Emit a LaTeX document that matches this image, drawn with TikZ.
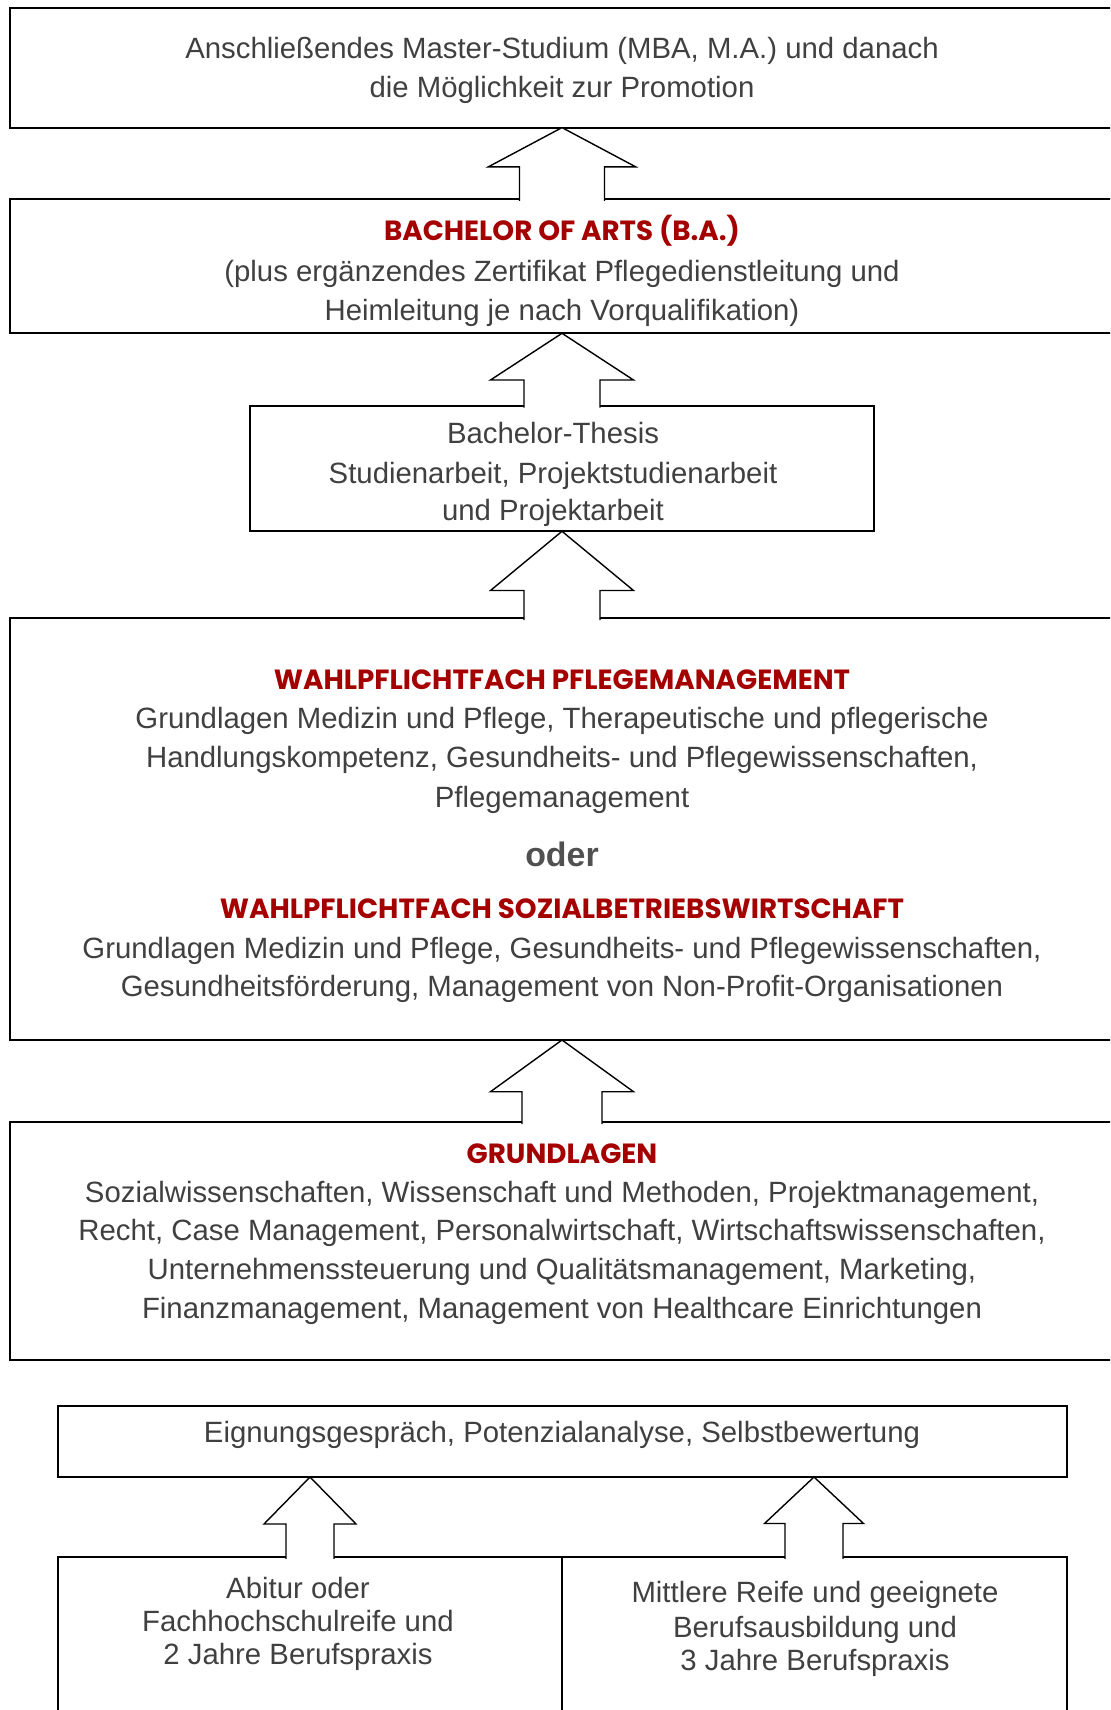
\documentclass[tikz,border=0pt]{standalone}
\usepackage{fontspec}
\setmainfont{Liberation Sans}
\newfontfamily\headfont{Poppins}

\definecolor{textgray}{HTML}{404040}
\definecolor{odergray}{HTML}{505050}
\definecolor{headred}{HTML}{A50000}
\newcommand{\pix}{0.02cm}

\tikzset{
  box/.style={draw=black, line width=1.15pt, inner sep=0pt, outer sep=0pt, anchor=north west},
  blockarrow/.style={draw=black, line width=0.8pt, fill=white, line join=miter},
  body/.style={anchor=base, inner sep=0pt, text=textgray, font=\fontsize{16.7}{20}\selectfont},
  head/.style={anchor=base, inner sep=0pt, text=headred, font=\headfont\bfseries\fontsize{15.8}{18.5}\selectfont},
}

\begin{document}
\begin{tikzpicture}[x=\pix, y=-\pix]

\clip (0,0) rectangle (1110,1710);

% Boxes
\node[box, minimum width=1120*\pix, minimum height=120*\pix]   (master)   at (10,7.6) {};
\node[box, minimum width=1120*\pix, minimum height=134.3*\pix] (bachelor) at (10,199) {};
\node[box, minimum width=624*\pix,  minimum height=125.5*\pix] (thesis)   at (250,405.8) {};
\node[box, minimum width=1120*\pix, minimum height=421.7*\pix] (wahl)     at (10,618.3) {};
\node[box, minimum width=1120*\pix, minimum height=237.7*\pix] (grund)    at (10,1122.3) {};
\node[box, minimum width=1008.6*\pix, minimum height=71.5*\pix] (eignung) at (58,1405.5) {};
\node[box, minimum width=504*\pix,  minimum height=200*\pix]   (abitur)   at (58,1557) {};
\node[box, minimum width=504.6*\pix, minimum height=200*\pix]  (reife)    at (562,1557) {};

% Block arrows (from lower box up to upper box)
\foreach \a/\b/\ax/\hy/\hw/\sw in {master/bachelor/562/166.8/73.6/42.5,
                                   bachelor/thesis/562/380/71.5/38,
                                   thesis/wahl/562/590.5/71.5/38,
                                   wahl/grund/562/1091.7/71.5/40,
                                   eignung/abitur/310/1524/46/24,
                                   eignung/reife/814/1523.5/49.5/29}
  \draw[blockarrow] ([yshift=-1pt]\b.north -| \ax-\sw,0) -- (\ax-\sw,\hy) -- (\ax-\hw,\hy)
      -- (\a.south -| \ax,0) -- (\ax+\hw,\hy) -- (\ax+\sw,\hy) -- ([yshift=-1pt]\b.north -| \ax+\sw,0);

% Texts
\foreach \y/\txt [count=\i] in {50/{Anschließendes Master-Studium (MBA, M.A.) und danach},
                                89/{die Möglichkeit zur Promotion}}
  \node[body] (master-\i) at (562,\y+9) {\txt};

\node[head] (bachelor-head) at (562,231+9.7) {BACHELOR OF ARTS (B.A.)};
\foreach \y/\txt [count=\i] in {272.5/{(plus ergänzendes Zertifikat Pflegedienstleitung und},
                                311.8/{Heimleitung je nach Vorqualifikation)}}
  \node[body] (bachelor-\i) at (562,\y+9) {\txt};

\foreach \y/\txt [count=\i] in {434/{Bachelor-Thesis},
                                474/{Studienarbeit, Projektstudienarbeit},
                                511.7/{und Projektarbeit}}
  \node[body] (thesis-\i) at (553,\y+9) {\txt};

\node[head] (wahl-head1) at (562,680+9.7) {WAHLPFLICHTFACH PFLEGEMANAGEMENT};
\foreach \y/\txt [count=\i] in {719.6/{Grundlagen Medizin und Pflege, Therapeutische und pflegerische},
                                758.8/{Handlungskompetenz, Gesundheits- und Pflegewissenschaften,},
                                798/{Pflegemanagement}}
  \node[body] (wahl-a\i) at (562,\y+9) {\txt};
\node[anchor=base, inner sep=0pt, text=odergray, font=\bfseries\fontsize{19.3}{23}\selectfont] (oder) at (562,856+10) {oder};
\node[head] (wahl-head2) at (562,908.3+9.7) {WAHLPFLICHTFACH SOZIALBETRIEBSWIRTSCHAFT};
\foreach \y/\txt [count=\i] in {949.6/{Grundlagen Medizin und Pflege, Gesundheits- und Pflegewissenschaften,},
                                987.7/{Gesundheitsförderung,  Management von Non-Profit-Organisationen}}
  \node[body] (wahl-b\i) at (562,\y+9) {\txt};

\node[head] (grund-head) at (562,1154+9.7) {GRUNDLAGEN};
\foreach \y/\txt [count=\i] in {1193.3/{Sozialwissenschaften, Wissenschaft und Methoden, Projektmanagement,},
                                1231.7/{Recht, Case Management, Personalwirtschaft, Wirtschaftswissenschaften,},
                                1270/{Unternehmenssteuerung und Qualitätsmanagement, Marketing,},
                                1309/{Finanzmanagement, Management von Healthcare Einrichtungen}}
  \node[body] (grund-\i) at (562,\y+9) {\txt};

\node[body] (eignung-1) at (562,1433+9) {Eignungsgespräch, Potenzialanalyse, Selbstbewertung};

\foreach \y/\txt [count=\i] in {1589/{Abitur oder},
                                1622.3/{Fachhochschulreife und},
                                1655.7/{2 Jahre Berufspraxis}}
  \node[body] (abitur-\i) at (298,\y+9) {\txt};

\foreach \y/\txt [count=\i] in {1593.3/{Mittlere Reife und geeignete},
                                1628.3/{Berufsausbildung und},
                                1661.7/{3 Jahre Berufspraxis}}
  \node[body] (reife-\i) at (815,\y+9) {\txt};

\end{tikzpicture}
\end{document}
